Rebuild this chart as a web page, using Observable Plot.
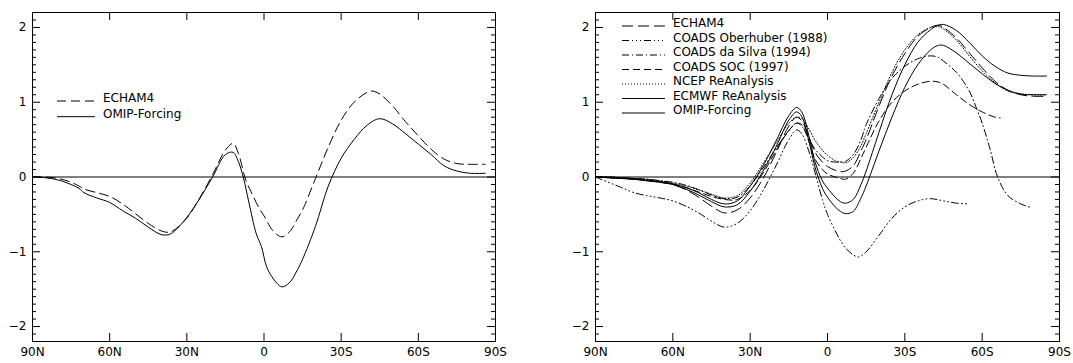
<!DOCTYPE html>
<html><head><meta charset="utf-8">
<script src="https://cdn.jsdelivr.net/npm/d3@7"></script>
<script src="https://cdn.jsdelivr.net/npm/@observablehq/plot@0.6"></script>
<style>
body{margin:0;background:#fff;}
#wrap{display:flex;width:1073px;height:363px;}
svg{overflow:visible;}
</style></head><body><div id="wrap"></div>
<script>
const latTicks = [90, 60, 30, 0, -30, -60, -90];
const latTickLabels = ["90N", "60N", "30N", "0", "30S", "60S", "90S"];
const yTicks = [-2, -1, 0, 1, 2];
const yTickLabels = ["−2", "−1", "0", "1", "2"];
const yMinorTicks = [-2.1,-1.9,-1.8,-1.7,-1.6,-1.5,-1.4,-1.3,-1.2,-1.1,-0.9,-0.8,-0.7,-0.6,-0.5,-0.4,-0.3,-0.2,-0.1,
                     0.1,0.2,0.3,0.4,0.5,0.6,0.7,0.8,0.9,1.1,1.2,1.3,1.4,1.5,1.6,1.7,1.8,1.9,2.1];

const leftEchamLat = [90,85,80,75,72,70,65,60,55,50,45,40,37,35,30,25,20,15,12,10,7,5,2,0,-3,-5,-7,-10,-13,-15,-20,-25,-30,-35,-40,-42,-45,-50,-55,-60,-65,-70,-75,-80,-86];
const leftEcham = [0,0,-0.02,-0.07,-0.12,-0.16,-0.21,-0.26,-0.36,-0.49,-0.62,-0.72,-0.74,-0.71,-0.55,-0.28,0.03,0.36,0.45,0.32,-0.05,-0.20,-0.41,-0.52,-0.70,-0.77,-0.80,-0.73,-0.56,-0.44,-0.02,0.40,0.76,1.0,1.13,1.15,1.11,0.95,0.74,0.55,0.37,0.24,0.18,0.17,0.17];
const leftOmipLat = [90,85,80,75,72,70,65,60,55,50,45,40,37,35,30,25,20,15,12,10,8,6,3,1,-1,-3,-5,-7,-10,-13,-15,-20,-25,-30,-35,-40,-45,-50,-55,-60,-65,-70,-75,-80,-86];
const leftOmip = [0,-0.01,-0.04,-0.10,-0.15,-0.21,-0.28,-0.34,-0.45,-0.55,-0.67,-0.77,-0.77,-0.73,-0.54,-0.29,0.0,0.30,0.33,0.21,-0.01,-0.32,-0.76,-0.93,-1.20,-1.33,-1.42,-1.47,-1.41,-1.24,-1.1,-0.66,-0.12,0.25,0.50,0.69,0.78,0.71,0.58,0.44,0.30,0.15,0.08,0.05,0.05];

const rLat = [90,85,80,75,70,65,60,55,50,45,40,35,30,25,20,15,12,10,7,5,2,0,-3,-5,-7,-10,-13,-15,-20,-25,-30,-35,-40,-43,-45,-50,-55,-60,-65,-70,-75,-80,-85];
const rEcham = [0,-0.01,-0.02,-0.03,-0.05,-0.07,-0.10,-0.17,-0.27,-0.39,-0.48,-0.44,-0.28,-0.02,0.32,0.68,0.80,0.75,0.52,0.34,0.2,0.14,0.09,0.07,0.08,0.15,0.35,0.5,0.95,1.35,1.65,1.88,2.0,2.03,2.0,1.86,1.66,1.46,1.28,1.16,1.1,1.08,1.08];
const rNcep = [0,0,-0.01,-0.02,-0.03,-0.05,-0.08,-0.12,-0.17,-0.23,-0.28,-0.25,-0.08,0.18,0.45,0.72,0.80,0.78,0.63,0.5,0.36,0.29,0.22,0.2,0.19,0.26,0.42,0.58,1.0,1.4,1.7,1.9,2.0,2.01,1.98,1.83,1.62,1.42,1.26,1.15,1.11,1.1,1.1];
const rEcmwf = [0,0,-0.01,-0.02,-0.04,-0.06,-0.09,-0.14,-0.21,-0.30,-0.36,-0.32,-0.12,0.15,0.48,0.82,0.93,0.87,0.52,0.22,-0.05,-0.15,-0.27,-0.33,-0.35,-0.30,-0.10,0.08,0.6,1.1,1.5,1.8,1.97,2.03,2.04,1.96,1.8,1.62,1.48,1.39,1.36,1.35,1.35];
const rOmip = [0,-0.01,-0.02,-0.03,-0.05,-0.07,-0.10,-0.16,-0.24,-0.33,-0.40,-0.37,-0.19,0.08,0.40,0.76,0.87,0.81,0.45,0.15,-0.15,-0.27,-0.40,-0.46,-0.49,-0.46,-0.28,-0.12,0.35,0.8,1.2,1.5,1.7,1.76,1.76,1.66,1.52,1.38,1.25,1.16,1.11,1.1,1.1];
const rSocLat = [90,85,80,75,70,65,60,55,50,45,40,35,30,25,20,15,12,10,7,5,2,0,-3,-5,-7,-10,-13,-15,-20,-25,-30,-35,-40,-43,-45,-50,-55,-60,-65,-67];
const rSoc = [0,-0.01,-0.02,-0.03,-0.05,-0.07,-0.10,-0.14,-0.20,-0.26,-0.30,-0.30,-0.18,0.05,0.35,0.62,0.72,0.70,0.45,0.25,0.10,0.04,0.0,-0.02,-0.03,0.05,0.25,0.4,0.75,1.0,1.15,1.24,1.28,1.27,1.24,1.1,0.97,0.87,0.8,0.79];
const rDaSilvaLat = [90,85,80,75,70,65,60,55,50,45,40,35,30,25,20,15,12,10,7,5,2,0,-3,-5,-7,-10,-13,-15,-20,-25,-30,-35,-40,-43,-45,-50,-55,-58,-60,-63,-66,-70,-75,-79];
const rDaSilva = [0,0,-0.01,-0.02,-0.03,-0.05,-0.07,-0.11,-0.17,-0.24,-0.29,-0.27,-0.12,0.12,0.38,0.62,0.72,0.68,0.50,0.38,0.27,0.22,0.2,0.2,0.21,0.3,0.5,0.7,1.05,1.32,1.48,1.58,1.62,1.6,1.55,1.4,1.15,0.9,0.72,0.38,0.0,-0.25,-0.36,-0.41];
const rOberLat = [90,85,80,75,70,65,60,55,50,45,40,35,30,25,20,15,12,10,7,5,2,0,-3,-5,-7,-10,-12,-15,-20,-25,-30,-35,-40,-45,-50,-55];
const rOber = [0,-0.07,-0.14,-0.21,-0.25,-0.28,-0.32,-0.39,-0.48,-0.59,-0.67,-0.62,-0.45,-0.18,0.15,0.5,0.63,0.58,0.32,0.08,-0.3,-0.5,-0.72,-0.85,-0.95,-1.04,-1.07,-1.0,-0.78,-0.55,-0.4,-0.32,-0.29,-0.32,-0.35,-0.36];

const leftSeries = [
  {name: "ECHAM4", lat: leftEchamLat, v: leftEcham, dash: "9,5"},
  {name: "OMIP-Forcing", lat: leftOmipLat, v: leftOmip, dash: null}
];
const rightSeries = [
  {name: "ECHAM4", lat: rLat, v: rEcham, dash: "11,5"},
  {name: "COADS Oberhuber (1988)", lat: rOberLat, v: rOber, dash: "7,3,1,3,1,3,1,3"},
  {name: "COADS da Silva (1994)", lat: rDaSilvaLat, v: rDaSilva, dash: "7,3,1,3"},
  {name: "COADS SOC (1997)", lat: rSocLat, v: rSoc, dash: "7,4"},
  {name: "NCEP ReAnalysis", lat: rLat, v: rNcep, dash: "1,2"},
  {name: "ECMWF ReAnalysis", lat: rLat, v: rEcmwf, dash: null},
  {name: "OMIP-Forcing", lat: rLat, v: rOmip, dash: null}
];

const H = 363, MT = 12, MB = 22;
const X0 = 90, X1 = -90, Y0 = -2.2, Y1 = 2.2;
const FONT = "'DejaVu Sans', 'Liberation Sans', sans-serif";
const TICKCOLOR = "black";

function panel({width, marginLeft, marginRight, series, legend}) {
  const fw = width - marginLeft - marginRight;
  const fh = H - MT - MB;
  const dxMajor = 8 * (X0 - X1) / fw, dxMinor = 4 * (X0 - X1) / fw;
  const dyMajor = 8 * (Y1 - Y0) / fh;
  const marks = [
    Plot.ruleY([0], {stroke: "black", strokeWidth: 1}),
    Plot.ruleY(yTicks, {y: d => d, x1: () => X0, x2: () => X0 - dxMajor, stroke: TICKCOLOR, strokeWidth: 1}),
    Plot.ruleY(yTicks, {y: d => d, x1: () => X1, x2: () => X1 + dxMajor, stroke: TICKCOLOR, strokeWidth: 1}),
    Plot.ruleY(yMinorTicks, {y: d => d, x1: () => X0, x2: () => X0 - dxMinor, stroke: TICKCOLOR, strokeWidth: 1}),
    Plot.ruleY(yMinorTicks, {y: d => d, x1: () => X1, x2: () => X1 + dxMinor, stroke: TICKCOLOR, strokeWidth: 1}),
    Plot.ruleX(latTicks.slice(1, -1), {x: d => d, y1: () => Y0, y2: () => Y0 + dyMajor, stroke: TICKCOLOR, strokeWidth: 1}),
    Plot.ruleX(latTicks.slice(1, -1), {x: d => d, y1: () => Y1, y2: () => Y1 - dyMajor, stroke: TICKCOLOR, strokeWidth: 1}),
    Plot.axisY({ticks: yTicks, tickSize: 0, tickPadding: 6, label: null,
      tickFormat: d => yTickLabels[yTicks.indexOf(d)]}),
    Plot.axisX({ticks: latTicks, tickSize: 0, tickPadding: 6, label: null,
      tickFormat: d => latTickLabels[latTicks.indexOf(d)]}),
    Plot.frame({stroke: "black", strokeWidth: 1})
  ];
  for (const s of series) {
    const data = s.lat.map((lat, i) => ({lat, v: s.v[i]}));
    marks.push(Plot.line(data, {x: "lat", y: "v", stroke: "black", strokeWidth: 1,
      curve: "catmull-rom", strokeDasharray: s.dash ?? undefined}));
  }
  const svg = Plot.plot({
    width, height: H, marginLeft, marginRight, marginTop: MT, marginBottom: MB,
    x: {domain: [X0, X1]},
    y: {domain: [Y0, Y1]},
    style: {fontFamily: FONT, fontSize: "12px", color: "black", background: "white", overflow: "visible"},
    marks
  });
  const g = d3.select(svg).append("g")
    .attr("font-family", FONT).attr("font-size", 12).attr("text-anchor", "start");
  series.forEach((s, i) => {
    const y = legend.y0 + i * legend.step;
    g.append("line").attr("x1", legend.x1).attr("x2", legend.x2).attr("y1", y).attr("y2", y)
      .attr("stroke", "black").attr("stroke-width", 1)
      .attr("stroke-dasharray", s.dash ?? null);
    g.append("text").attr("x", legend.tx).attr("y", y + 1).attr("fill", "black")
      .attr("text-anchor", "start").text(s.name);
  });
  return svg;
}

const wrap = document.getElementById("wrap");
wrap.appendChild(panel({width: 536, marginLeft: 32, marginRight: 41, series: leftSeries,
  legend: {x1: 57, x2: 95, tx: 103, y0: 101, step: 15.7}}));
wrap.appendChild(panel({width: 537, marginLeft: 59, marginRight: 14, series: rightSeries,
  legend: {x1: 86, x2: 129, tx: 137, y0: 26, step: 14.5}}));
</script></body></html>
